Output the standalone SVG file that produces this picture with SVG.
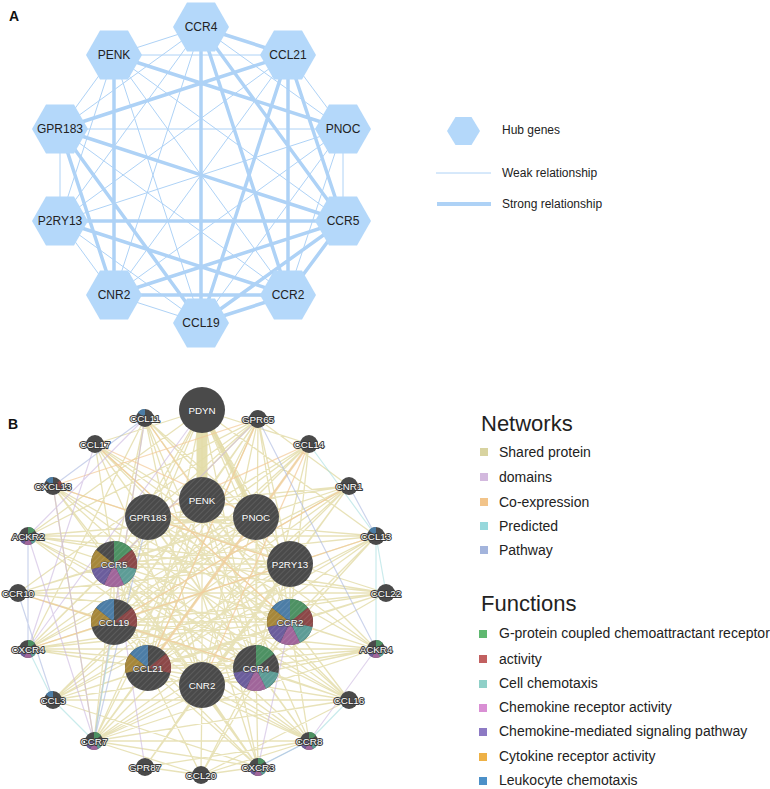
<svg xmlns="http://www.w3.org/2000/svg" xmlns:xlink="http://www.w3.org/1999/xlink" width="770" height="789" viewBox="0 0 770 789">
<style>
.ff{font-family:"Liberation Sans",Arial,sans-serif}
.hexlabel{font-family:"Liberation Sans",Arial,sans-serif;font-size:12px;fill:#222;text-anchor:middle}
.thin{stroke:#aed2f6;stroke-width:1;fill:none}
.thick{stroke:#aed2f6;stroke-width:3.5;fill:none}
.hex{fill:#b4d8fa}
.lb{font-family:"Liberation Sans",Arial,sans-serif;font-size:9.8px;fill:#fff;stroke:#3a3a3a;stroke-width:2px;paint-order:stroke;text-anchor:middle;stroke-linejoin:round}
.lbb{font-family:"Liberation Sans",Arial,sans-serif;font-size:9.8px;fill:#fff;stroke:#454545;stroke-width:1.2px;paint-order:stroke;text-anchor:middle}
.dk{fill:#4a4a4a}
.leg{font-family:"Liberation Sans",Arial,sans-serif;font-size:14px;fill:#222}
.legh{font-family:"Liberation Sans",Arial,sans-serif;font-size:22px;fill:#222}
.lega{font-family:"Liberation Sans",Arial,sans-serif;font-size:12px;fill:#222}
.g1{fill:#4d9163}.g2{fill:#8c4848}.g3{fill:#5d9c96}.g4{fill:#a0659a}.g5{fill:#6b5d9c}.g6{fill:#a6873a}.g7{fill:#4c7da6}
</style>
<defs>
<polygon id="hex" points="-28,0 -14,-24.5 14,-24.5 28,0 14,24.5 -14,24.5"/>
<pattern id="hatch" width="4" height="4" patternUnits="userSpaceOnUse" patternTransform="rotate(45)">
<line x1="0" y1="0" x2="0" y2="4" stroke="#fff" stroke-opacity="0.16" stroke-width="1.2"/>
</pattern>
<path id="s0" d="M0 0L0 -23A23 23 0 0 1 17.98 -14.34Z"/>
<path id="s1" d="M0 0L17.98 -14.34A23 23 0 0 1 22.42 5.12Z"/>
<path id="s2" d="M0 0L22.42 5.12A23 23 0 0 1 9.98 20.72Z"/>
<path id="s3" d="M0 0L9.98 20.72A23 23 0 0 1 -9.98 20.72Z"/>
<path id="s4" d="M0 0L-9.98 20.72A23 23 0 0 1 -22.42 5.12Z"/>
<path id="s5" d="M0 0L-22.42 5.12A23 23 0 0 1 -17.98 -14.34Z"/>
<path id="s6" d="M0 0L-17.98 -14.34A23 23 0 0 1 0 -23Z"/>
<path id="t0" d="M0 0L0 -9A9 9 0 0 1 7.04 -5.61Z"/>
<path id="t1" d="M0 0L7.04 -5.61A9 9 0 0 1 8.77 2Z"/>
<path id="t2" d="M0 0L8.77 2A9 9 0 0 1 3.91 8.11Z"/>
<path id="t3" d="M0 0L3.91 8.11A9 9 0 0 1 -3.91 8.11Z"/>
<path id="t4" d="M0 0L-3.91 8.11A9 9 0 0 1 -8.77 2Z"/>
<path id="t5" d="M0 0L-8.77 2A9 9 0 0 1 -7.04 -5.61Z"/>
<path id="t6" d="M0 0L-7.04 -5.61A9 9 0 0 1 0 -9Z"/>
</defs>
<rect width="770" height="789" fill="#fff"/>

<!-- Panel A -->
<text x="9" y="21" class="ff" font-size="14" font-weight="bold" fill="#111">A</text>
<g id="connectors-a">
<path class="thin" d="M201 27L343 129M201 27L114 295M201 27L60 221M201 27L60 129M201 27L114 55M288 55L343 129M288 55L114 295M288 55L60 221M288 55L114 55M343 129L343 221M343 129L288 295M343 129L201 323M343 129L114 295M343 129L60 221M343 129L60 129M343 221L114 55M288 295L60 129M288 295L114 55M201 323L114 295M201 323L60 221M201 323L114 55M114 295L60 221M60 221L60 129M60 221L114 55M60 129L114 55"/>
<path class="thick" d="M201 27L288 55M201 27L201 323M201 27L288 295M201 27L343 221M288 55L60 129M288 55L201 323M288 55L288 295M288 55L343 221M114 55L343 129M114 55L114 295M60 221L343 221M60 221L288 295M60 129L343 221M60 129L201 323M60 129L114 295M201 323L288 295M201 323L343 221M288 295L343 221M114 295L288 295M114 295L343 221"/>
</g>
<g id="a-CCR4"><use href="#hex" class="hex" x="201" y="27"/><text class="hexlabel" x="201" y="31">CCR4</text></g>
<g id="a-CCL21"><use href="#hex" class="hex" x="288" y="55"/><text class="hexlabel" x="288" y="59">CCL21</text></g>
<g id="a-PNOC"><use href="#hex" class="hex" x="343" y="129"/><text class="hexlabel" x="343" y="133">PNOC</text></g>
<g id="a-CCR5"><use href="#hex" class="hex" x="343" y="221"/><text class="hexlabel" x="343" y="225">CCR5</text></g>
<g id="a-CCR2"><use href="#hex" class="hex" x="288" y="295"/><text class="hexlabel" x="288" y="299">CCR2</text></g>
<g id="a-CCL19"><use href="#hex" class="hex" x="201" y="323"/><text class="hexlabel" x="201" y="327">CCL19</text></g>
<g id="a-CNR2"><use href="#hex" class="hex" x="114" y="295"/><text class="hexlabel" x="114" y="299">CNR2</text></g>
<g id="a-P2RY13"><use href="#hex" class="hex" x="60" y="221"/><text class="hexlabel" x="60" y="225">P2RY13</text></g>
<g id="a-GPR183"><use href="#hex" class="hex" x="60" y="129"/><text class="hexlabel" x="60" y="133">GPR183</text></g>
<g id="a-PENK"><use href="#hex" class="hex" x="114" y="55"/><text class="hexlabel" x="114" y="59">PENK</text></g>

<g id="legend-a">
<polygon class="hex" points="447,131 455.5,117 471.5,117 480,131 471.5,145 455.5,145"/>
<text class="lega" x="502" y="134">Hub genes</text>
<line x1="436" y1="173" x2="491" y2="173" stroke="#aed2f6" stroke-width="1"/>
<text class="lega" x="502" y="177">Weak relationship</text>
<line x1="437" y1="204" x2="491" y2="204" stroke="#aed2f6" stroke-width="4"/>
<text class="lega" x="502" y="208">Strong relationship</text>
</g>

<!-- Panel B -->
<text x="8" y="429" class="ff" font-size="14" font-weight="bold" fill="#111">B</text>
<g id="connectors-b" fill="none" stroke-linecap="round">
<path stroke="#e2dba6" stroke-opacity="0.8" stroke-width="1.3" d="M202 410L148 517M202 410L256 517M202 410L114 564M202 410L290 564M202 410L114 622M202 410L290 622M202 410L148 668M202 410L256 668M202 410L202 685M202 410L95 444M202 410L309 444M202 410L28 536M202 410L376 536M145 418L114 564M145 418L290 622M145 418L256 668M145 418L28 649M145 418L290 564M145 418L256 517M145 418L202 685M145 418L94 741M145 418L258 767M145 418L376 649M258 419L148 517M258 419L202 500M258 419L114 564M258 419L290 564M258 419L114 622M258 419L290 622M258 419L148 668M258 419L256 668M258 419L202 685M258 419L28 536M258 419L94 741M258 419L309 741M258 419L28 649M258 419L18 593M258 419L349 486M95 444L114 564M95 444L290 622M95 444L256 668M95 444L290 564M95 444L376 649M95 444L349 700M95 444L202 685M95 444L309 741M309 444L114 564M309 444L290 622M309 444L256 668M309 444L94 741M309 444L28 649M309 444L114 622M309 444L148 668M309 444L53 700M53 486L114 564M53 486L290 622M53 486L256 668M53 486L94 741M53 486L258 767M53 486L290 564M53 486L349 700M349 486L148 517M349 486L202 500M349 486L114 564M349 486L114 622M349 486L148 668M349 486L202 685M349 486L145 767M349 486L53 700M349 486L94 741M349 486L28 649M202 500L114 564M202 500L290 622M202 500L256 668M202 500L114 622M202 500L148 668M202 500L202 685M202 500L290 564M202 500L94 741M202 500L309 741M202 500L258 767M148 517L256 517M148 517L290 564M148 517L290 622M148 517L256 668M148 517L202 685M148 517L148 668M148 517L114 622M148 517L376 536M148 517L386 593M148 517L376 649M148 517L349 700M148 517L309 741M256 517L114 564M256 517L114 622M256 517L148 668M256 517L202 685M256 517L256 668M256 517L290 622M256 517L28 536M256 517L18 593M256 517L28 649M256 517L53 700M256 517L94 741M28 536L114 564M28 536L290 622M28 536L256 668M28 536L290 564M28 536L376 536M28 536L386 593M28 536L349 700M28 536L309 741M376 536L114 564M376 536L114 622M376 536L148 668M376 536L256 668M376 536L290 622M376 536L53 700M376 536L94 741M114 564L290 564M114 564L290 622M114 564L256 668M114 564L114 622M114 564L148 668M114 564L202 685M114 564L18 593M114 564L28 649M114 564L94 741M114 564L309 741M114 564L258 767M114 564L376 649M114 564L386 593M114 564L349 700M290 564L114 622M290 564L148 668M290 564L202 685M290 564L290 622M290 564L256 668M290 564L28 649M290 564L53 700M290 564L145 767M290 564L18 593M18 593L290 622M18 593L256 668M18 593L114 622M18 593L386 593M18 593L349 700M386 593L114 622M386 593L148 668M386 593L290 622M386 593L256 668M386 593L28 649M386 593L53 700M114 622L290 622M114 622L256 668M114 622L148 668M114 622L202 685M114 622L28 649M114 622L376 649M114 622L309 741M114 622L258 767M290 622L148 668M290 622L256 668M290 622L202 685M290 622L28 649M290 622L376 649M290 622L53 700M290 622L94 741M290 622L349 700M290 622L309 741M290 622L201 775M28 649L256 668M28 649L148 668M28 649L376 649M28 649L349 700M376 649L148 668M376 649L256 668M376 649L53 700M376 649L94 741M376 649L202 685M148 668L256 668M148 668L202 685M148 668L94 741M148 668L309 741M148 668L258 767M148 668L201 775M148 668L349 700M256 668L202 685M256 668L94 741M256 668L309 741M256 668L258 767M256 668L201 775M256 668L53 700M256 668L349 700M202 685L94 741M202 685L309 741M202 685L145 767M202 685L258 767M202 685L201 775M53 700L349 700M53 700L258 767M349 700L94 741M349 700L201 775M94 741L309 741M94 741L258 767M94 741L201 775M309 741L145 767M309 741L201 775M145 767L201 775M258 767L201 775"/>
<path stroke="#e2dba6" stroke-opacity="0.9" stroke-width="11" d="M202 420L202 490"/>
<path stroke="#e2dba6" stroke-opacity="0.8" stroke-width="5" d="M210 425L250 505"/>
<path stroke="#f3c997" stroke-opacity="0.7" stroke-width="1.3" d="M145 418L202 500M95 444L256 517M95 444L290 622M309 444L148 517M258 419L53 486M349 486L114 622M53 486L290 564M309 444L202 685M258 419L148 668M376 536L28 649M18 593L256 668"/>
<path stroke="#f3c997" stroke-opacity="0.6" stroke-width="2.5" d="M309 444L148 668"/>
<path stroke="#cbb8e0" stroke-opacity="0.6" stroke-width="1.2" d="M145 418L28 536M95 444L28 649M53 486L94 741M28 536L94 741M258 419L114 564M202 410L28 649M145 418L94 741M290 622L258 767M114 564L145 767M376 649L309 741"/>
<path stroke="#a6dde0" stroke-opacity="0.6" stroke-width="1.2" d="M386 593L376 536M376 536L376 649M349 700L309 741M53 700L94 741M28 649L53 700M309 444L376 536M114 622L94 741M258 767L309 741"/>
<path stroke="#aab8e0" stroke-opacity="0.6" stroke-width="1.2" d="M145 418L53 486M28 536L28 649M18 593L53 700M309 741L258 767M376 536L349 486M148 517L94 741M258 419L376 649"/>
</g>

<!-- big nodes -->
<g id="b-PDYN" transform="translate(202,410)"><circle r="23" class="dk"/><text class="lbb" y="3.5">PDYN</text></g>
<g id="b-PENK" transform="translate(202,500)"><circle r="23" class="dk"/><circle r="23" fill="url(#hatch)"/><text class="lbb" y="3.5">PENK</text></g>
<g id="b-GPR183" transform="translate(148,517)"><circle r="23" class="dk"/><circle r="23" fill="url(#hatch)"/><text class="lbb" y="3.5">GPR183</text></g>
<g id="b-PNOC" transform="translate(256,517)"><circle r="23" class="dk"/><circle r="23" fill="url(#hatch)"/><text class="lbb" y="3.5">PNOC</text></g>
<g id="b-CCR5" transform="translate(114,564)"><circle r="23" class="dk"/><use href="#s0" class="g1"/><use href="#s1" class="g2"/><use href="#s2" class="g3"/><use href="#s3" class="g4"/><use href="#s4" class="g5"/><use href="#s5" class="g6"/><circle r="23" fill="url(#hatch)"/><text class="lbb" y="3.5">CCR5</text></g>
<g id="b-P2RY13" transform="translate(290,564)"><circle r="23" class="dk"/><circle r="23" fill="url(#hatch)"/><text class="lbb" y="3.5">P2RY13</text></g>
<g id="b-CCL19" transform="translate(114,622)"><circle r="23" class="dk"/><use href="#s1" class="g2"/><use href="#s5" class="g6"/><use href="#s6" class="g7"/><circle r="23" fill="url(#hatch)"/><text class="lbb" y="3.5">CCL19</text></g>
<g id="b-CCR2" transform="translate(290,622)"><circle r="23" class="dk"/><use href="#s0" class="g1"/><use href="#s1" class="g2"/><use href="#s2" class="g3"/><use href="#s3" class="g4"/><use href="#s4" class="g5"/><use href="#s5" class="g6"/><use href="#s6" class="g7"/><circle r="23" fill="url(#hatch)"/><text class="lbb" y="3.5">CCR2</text></g>
<g id="b-CCL21" transform="translate(148,668)"><circle r="23" class="dk"/><use href="#s1" class="g2"/><use href="#s5" class="g6"/><use href="#s6" class="g7"/><circle r="23" fill="url(#hatch)"/><text class="lbb" y="3.5">CCL21</text></g>
<g id="b-CCR4" transform="translate(256,668)"><circle r="23" class="dk"/><use href="#s0" class="g1"/><use href="#s2" class="g3"/><use href="#s3" class="g4"/><use href="#s4" class="g5"/><circle r="23" fill="url(#hatch)"/><text class="lbb" y="3.5">CCR4</text></g>
<g id="b-CNR2" transform="translate(202,685)"><circle r="23" class="dk"/><circle r="23" fill="url(#hatch)"/><text class="lbb" y="3.5">CNR2</text></g>

<!-- small nodes -->
<g id="b-CCL11" transform="translate(145,418)"><circle r="9" class="dk"/><use href="#t6" class="g7"/><text class="lb" y="3.5">CCL11</text></g>
<g id="b-GPR65" transform="translate(258,419)"><circle r="9" class="dk"/><text class="lb" y="3.5">GPR65</text></g>
<g id="b-CCL17" transform="translate(95,444)"><circle r="9" class="dk"/><text class="lb" y="3.5">CCL17</text></g>
<g id="b-CCL14" transform="translate(309,444)"><circle r="9" class="dk"/><text class="lb" y="3.5">CCL14</text></g>
<g id="b-CXCL13" transform="translate(53,486)"><circle r="9" class="dk"/><use href="#t6" class="g7"/><use href="#t1" class="g2"/><text class="lb" y="3.5">CXCL13</text></g>
<g id="b-CNR1" transform="translate(349,486)"><circle r="9" class="dk"/><text class="lb" y="3.5">CNR1</text></g>
<g id="b-ACKR2" transform="translate(28,536)"><circle r="9" class="dk"/><use href="#t0" class="g1"/><use href="#t2" class="g3"/><use href="#t3" class="g4"/><use href="#t4" class="g5"/><text class="lb" y="3.5">ACKR2</text></g>
<g id="b-CCL13" transform="translate(376,536)"><circle r="9" class="dk"/><use href="#t6" class="g7"/><text class="lb" y="3.5">CCL13</text></g>
<g id="b-CCR10" transform="translate(18,593)"><circle r="9" class="dk"/><text class="lb" y="3.5">CCR10</text></g>
<g id="b-CCL22" transform="translate(386,593)"><circle r="9" class="dk"/><text class="lb" y="3.5">CCL22</text></g>
<g id="b-CXCR4" transform="translate(28,649)"><circle r="9" class="dk"/><use href="#t0" class="g1"/><use href="#t2" class="g3"/><use href="#t3" class="g4"/><use href="#t4" class="g5"/><text class="lb" y="3.5">CXCR4</text></g>
<g id="b-ACKR4" transform="translate(376,649)"><circle r="9" class="dk"/><use href="#t0" class="g1"/><use href="#t2" class="g3"/><use href="#t3" class="g4"/><use href="#t4" class="g5"/><text class="lb" y="3.5">ACKR4</text></g>
<g id="b-CCL3" transform="translate(53,700)"><circle r="9" class="dk"/><use href="#t6" class="g7"/><text class="lb" y="3.5">CCL3</text></g>
<g id="b-CCL16" transform="translate(349,700)"><circle r="9" class="dk"/><text class="lb" y="3.5">CCL16</text></g>
<g id="b-CCR7" transform="translate(94,741)"><circle r="9" class="dk"/><use href="#t0" class="g1"/><use href="#t2" class="g3"/><use href="#t3" class="g4"/><use href="#t4" class="g5"/><text class="lb" y="3.5">CCR7</text></g>
<g id="b-CCR8" transform="translate(309,741)"><circle r="9" class="dk"/><use href="#t0" class="g1"/><use href="#t2" class="g3"/><use href="#t3" class="g4"/><use href="#t4" class="g5"/><text class="lb" y="3.5">CCR8</text></g>
<g id="b-GPR87" transform="translate(145,767)"><circle r="9" class="dk"/><text class="lb" y="3.5">GPR87</text></g>
<g id="b-CXCR3" transform="translate(258,767)"><circle r="9" class="dk"/><use href="#t0" class="g1"/><use href="#t2" class="g3"/><use href="#t3" class="g4"/><use href="#t4" class="g5"/><text class="lb" y="3.5">CXCR3</text></g>
<g id="b-CCL20" transform="translate(201,775)"><circle r="9" class="dk"/><text class="lb" y="3.5">CCL20</text></g>

<g id="legend-networks">
<text class="legh" x="481" y="431">Networks</text>
<rect x="480" y="448" width="8" height="8" fill="#d8d3a0"/><text class="leg" x="499" y="457">Shared protein</text>
<rect x="480" y="473" width="8" height="8" fill="#d3b9de"/><text class="leg" x="499" y="482">domains</text>
<rect x="480" y="498" width="8" height="8" fill="#f2c48a"/><text class="leg" x="499" y="507">Co-expression</text>
<rect x="480" y="522" width="8" height="8" fill="#97d8dc"/><text class="leg" x="499" y="531">Predicted</text>
<rect x="480" y="546" width="8" height="8" fill="#a3b4dc"/><text class="leg" x="499" y="555">Pathway</text>
</g>
<g id="legend-functions">
<text class="legh" x="481" y="611">Functions</text>
<rect x="479" y="630" width="8" height="8" fill="#5fb870"/><text class="leg" x="499" y="638">G-protein coupled chemoattractant receptor</text>
<rect x="479" y="655" width="8" height="8" fill="#c26060"/><text class="leg" x="499" y="664">activity</text>
<rect x="479" y="680" width="8" height="8" fill="#8fd0c8"/><text class="leg" x="499" y="688">Cell chemotaxis</text>
<rect x="479" y="704" width="8" height="8" fill="#d98fd4"/><text class="leg" x="499" y="712">Chemokine receptor activity</text>
<rect x="479" y="728" width="8" height="8" fill="#8d7ac4"/><text class="leg" x="499" y="736">Chemokine-mediated signaling pathway</text>
<rect x="479" y="753" width="8" height="8" fill="#eeb146"/><text class="leg" x="499" y="761">Cytokine receptor activity</text>
<rect x="479" y="777" width="8" height="8" fill="#4c90c8"/><text class="leg" x="499" y="785">Leukocyte chemotaxis</text>
</g>
</svg>
